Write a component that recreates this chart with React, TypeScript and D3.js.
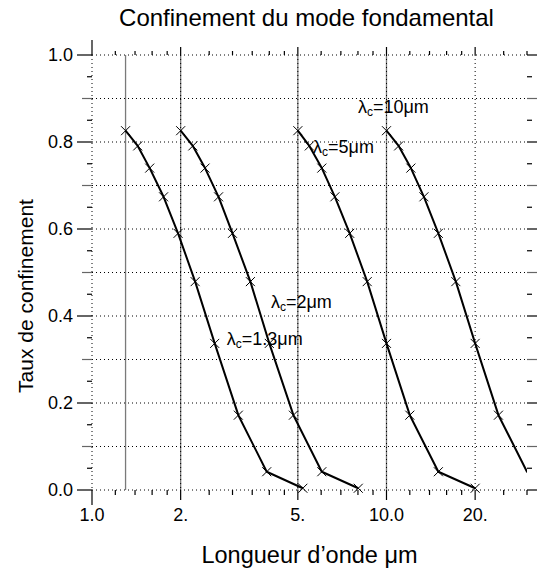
import { useEffect, useRef } from 'react';
import * as d3 from 'd3';

// taux de confinement read at each marker (same for every curve)
const tauxConfinement = [0.826, 0.791, 0.740, 0.674, 0.590, 0.479, 0.337, 0.172, 0.042, 0.004];

// longueurs d'onde (um) of the markers, one list per cut-off wavelength
const lambda13 = [1.30, 1.43, 1.57, 1.75, 1.96, 2.24, 2.61, 3.14, 3.92, 5.2];
const lambda2 = [2.0, 2.2, 2.42, 2.69, 3.0, 3.45, 4.0, 4.83, 6.03, 8.02];
const lambda5 = [5.0, 5.47, 6.03, 6.68, 7.5, 8.6, 10.0, 12.0, 15.0, 20.0];
const lambda10 = [10.0, 11.0, 12.1, 13.4, 15.0, 17.2, 20.0, 24.0, 30.0, 40.0];

const cutoffs = [1.3, 2, 5, 10];
const cutoffNames = ['1.3', '2', '5', '10'];
// label anchors in data units (wavelength, taux)
const labelX = [2.87, 4.05, 5.63, 8.0];
const labelY = [0.333, 0.418, 0.775, 0.867];

const xTicks = [1, 2, 5, 10, 20];
const xTickLabels = ['1.0', '2.', '5.', '10.0', '20.'];
const xMinorTicks = [1.2, 1.4, 1.6, 1.8, 2.5, 3, 3.5, 4, 4.5, 6, 7, 8, 9, 12, 14, 16, 18, 25];
const yTicks = [0, 0.2, 0.4, 0.6, 0.8, 1.0];
const yTickLabels = ['0.0', '0.2', '0.4', '0.6', '0.8', '1.0'];

const FONT = "'Liberation Sans', Arial, Helvetica, sans-serif";

const App = () => {
  const chartRef = useRef(null);

  useEffect(() => {
    d3.select(chartRef.current).selectAll('svg').remove();
    const width = 537;
    const height = 576;
    const margin = { top: 55, right: 10, bottom: 86, left: 92 };

    const svg = d3.select(chartRef.current)
      .append('svg')
      .attr('width', width)
      .attr('height', height)
      .style('position', 'absolute')
      .style('left', 0)
      .style('top', 0)
      .style('font-family', FONT);

    svg.append('rect').attr('width', width).attr('height', height).attr('fill', '#fff');

    const x = d3.scaleLog().domain([1, 30]).range([margin.left, width - margin.right]);
    const y = d3.scaleLinear().domain([0, 1]).range([height - margin.bottom, margin.top]);
    const x0 = x.range()[0], x1 = x.range()[1];
    const y0 = y.range()[0], y1 = y.range()[1];

    svg.append('defs').append('clipPath').attr('id', 'plot')
      .append('rect').attr('x', x0).attr('y', y1 - 5).attr('width', x1 - x0).attr('height', y0 - y1 + 10);

    // solid lines at the cut-off wavelengths
    svg.selectAll('.cut')
      .data(cutoffs)
      .enter()
      .append('line')
      .attr('x1', d => x(d)).attr('x2', d => x(d))
      .attr('y1', y(1)).attr('y2', y(0))
      .attr('stroke', '#7a7a7a')
      .attr('stroke-width', 1.3);

    // dotted grid
    const hGrid = d3.range(0, 11).map(i => i / 10);
    svg.selectAll('.hgrid')
      .data(hGrid)
      .enter()
      .append('line')
      .attr('x1', x0).attr('x2', x1)
      .attr('y1', d => y(d)).attr('y2', d => y(d))
      .attr('stroke', '#000')
      .attr('stroke-width', 1)
      .attr('stroke-dasharray', '1,3');
    svg.selectAll('.vgrid')
      .data(xTicks)
      .enter()
      .append('line')
      .attr('x1', d => x(d)).attr('x2', d => x(d))
      .attr('y1', y1).attr('y2', y0)
      .attr('stroke', '#000')
      .attr('stroke-width', 1)
      .attr('stroke-dasharray', '1,3');

    const tick = (xa: number, ya: number, xb: number, yb: number, color = '#000') =>
      svg.append('line')
        .attr('x1', xa).attr('y1', ya).attr('x2', xb).attr('y2', yb)
        .attr('stroke', color).attr('stroke-width', 1.2);

    // left / right ticks
    d3.range(0, 21).forEach(i => {
      const v = i / 20;
      const py = y(v);
      let left = 5, right = 5, col = '#000';
      if (i % 4 === 0) { left = 15; right = 10; }
      else if (i % 2 === 0) { left = 10; right = 10; col = '#666'; }
      tick(x0 - left, py, x0, py, col);
      tick(x1, py, x1 + right, py, col);
    });
    // bottom / top ticks
    xTicks.forEach(d => {
      const len = d === 1 ? 15 : 10;
      tick(x(d), y0, x(d), y0 + len);
      tick(x(d), y1, x(d), y1 - (d === 1 ? 15 : 8));
    });
    xMinorTicks.concat([30]).forEach(d => {
      tick(x(d), y0, x(d), y0 + 5);
      tick(x(d), y1, x(d), y1 - 4);
    });

    // tick labels
    svg.selectAll('.xlab')
      .data(xTicks)
      .enter()
      .append('text')
      .attr('x', d => x(d))
      .attr('y', y0 + 31)
      .attr('text-anchor', 'middle')
      .attr('font-size', 18)
      .text((d, i) => xTickLabels[i]);
    svg.selectAll('.ylab')
      .data(yTicks)
      .enter()
      .append('text')
      .attr('x', x0 - 19)
      .attr('y', d => y(d))
      .attr('dy', '0.36em')
      .attr('text-anchor', 'end')
      .attr('font-size', 18)
      .text((d, i) => yTickLabels[i]);

    // curves
    const series = [lambda13, lambda2, lambda5, lambda10];
    const line = d3.line<[number, number]>()
      .x(d => x(d[0]))
      .y(d => y(d[1]));
    const plot = svg.append('g').attr('clip-path', 'url(#plot)');
    series.forEach(xs => {
      const pts: [number, number][] = xs.map((v, i) => [v, tauxConfinement[i]]);
      plot.append('path')
        .datum(pts)
        .attr('d', line)
        .attr('fill', 'none')
        .attr('stroke', '#000')
        .attr('stroke-width', 2)
        .attr('stroke-linejoin', 'round');
      const s = 4.5;
      pts.filter(p => p[0] < 29.5).forEach(p => {
        const cx = x(p[0]), cy = y(p[1]);
        plot.append('path')
          .attr('d', `M${cx - s},${cy - s}L${cx + s},${cy + s}M${cx - s},${cy + s}L${cx + s},${cy - s}`)
          .attr('stroke', '#000')
          .attr('stroke-width', 1);
      });
    });

    // lambda_c labels
    cutoffNames.forEach((name, i) => {
      const t = svg.append('text')
        .attr('x', x(labelX[i]))
        .attr('y', y(labelY[i]))
        .attr('font-size', 18);
      t.append('tspan').text('λ');
      t.append('tspan').attr('font-size', 12).attr('dy', 3).text('c');
      t.append('tspan').attr('dy', -3).text(`=${name}μm`);
    });

    // titles
    svg.append('text')
      .attr('x', (x0 + x1) / 2 - 3)
      .attr('y', 26)
      .attr('text-anchor', 'middle')
      .attr('font-size', 24)
      .text('Confinement du mode fondamental');
    svg.append('text')
      .attr('x', (x0 + x1) / 2)
      .attr('y', 563)
      .attr('text-anchor', 'middle')
      .attr('font-size', 23.5)
      .text('Longueur d’onde μm');
    svg.append('text')
      .attr('transform', 'translate(33,296) rotate(-90)')
      .attr('text-anchor', 'middle')
      .attr('font-size', 21)
      .text('Taux de confinement');
  }, []);

  return (
    <div>
      <div ref={chartRef}></div>
    </div>
  );
};

export default App;
